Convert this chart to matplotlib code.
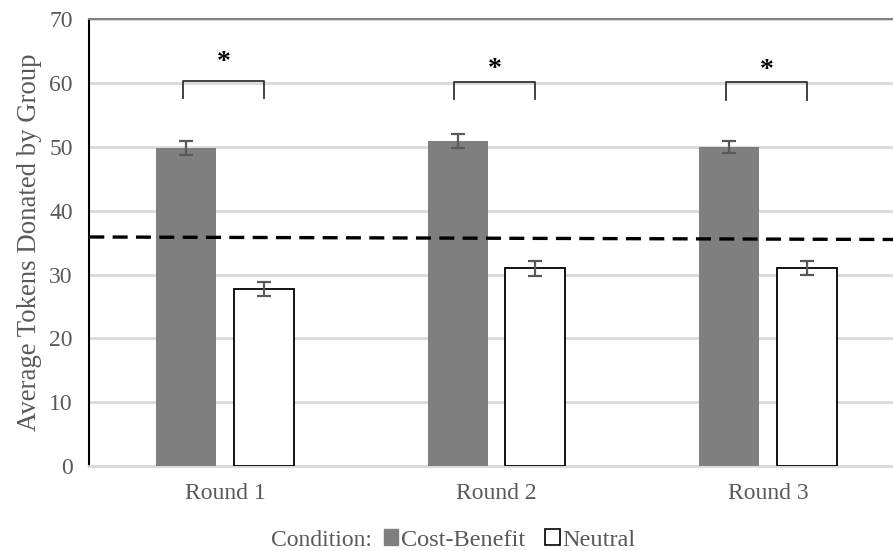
import numpy as np
import matplotlib

matplotlib.use("Agg")
import matplotlib.pyplot as plt
from matplotlib.patches import Patch

# Mean tokens donated per group, by round and condition.
rounds = ["Round 1", "Round 2", "Round 3"]
cost_benefit = [49.9, 50.9, 50.0]
cost_benefit_err = [1.1, 1.1, 0.9]
neutral = [27.7, 31.0, 31.1]
neutral_err = [1.1, 1.2, 1.1]

# Reference line (drawn slightly sloped, as in the original figure).
reference_level = [35.9, 35.5]

# Significance brackets: bracket height, leg bottom, star height.
bracket_top = [60.3, 60.1, 60.1]
bracket_bottom = [57.6, 57.5, 57.4]
star_y = [63.2, 62.2, 61.9]

plt.rcParams["font.family"] = ["Liberation Serif", "DejaVu Serif"]
text_color = "#595959"
bar_gray = "#7f7f7f"
err_color = "#595959"

fig = plt.figure(figsize=(8.93, 5.51), dpi=100)
ax = fig.add_axes([0.1, 0.154, 0.912, 0.811])

x = np.arange(len(rounds))
offset = 0.143
width = 0.222

ax.bar(x - offset, cost_benefit, width, color=bar_gray, zorder=3)
ax.bar(x + offset, neutral, width, facecolor="white", edgecolor="black",
       linewidth=1.3, zorder=3)
ax.errorbar(x - offset, cost_benefit, yerr=cost_benefit_err, fmt="none",
            ecolor=err_color, elinewidth=1.6, capsize=5, capthick=1.6, zorder=4)
ax.errorbar(x + offset, neutral, yerr=neutral_err, fmt="none",
            ecolor=err_color, elinewidth=1.6, capsize=5, capthick=1.6, zorder=4)

# Dashed reference line across the plot
ax.plot([-0.5, 2.5], reference_level, color="black", linestyle=(0, (4.5, 2.5)),
        linewidth=2.4, zorder=5)

# Significance brackets with stars
for i in range(len(rounds)):
    xl, xr = x[i] - offset - 0.012, x[i] + offset
    ax.plot([xl, xl, xr, xr],
            [bracket_bottom[i], bracket_top[i], bracket_top[i], bracket_bottom[i]],
            color="#333333", linewidth=1.3, zorder=5)
    ax.text((xl + xr) / 2, star_y[i], "*", ha="center", va="center",
            fontsize=20, fontweight="bold", color="black", zorder=6)

ax.set_xlim(-0.5, 2.5)
ax.set_ylim(0, 70)
ax.set_yticks(range(0, 71, 10))
ax.set_xticks(x)
ax.set_xticklabels(rounds)
ax.tick_params(axis="both", length=0, labelsize=17, colors=text_color)
ax.tick_params(axis="y", pad=12)
ax.tick_params(axis="x", pad=12)
ax.yaxis.grid(True, color="#d9d9d9", linewidth=2, zorder=0)
ax.set_axisbelow(True)

ax.spines["left"].set_color("black")
ax.spines["left"].set_linewidth(1.5)
ax.spines["top"].set_color("#808080")
ax.spines["top"].set_linewidth(1.5)
ax.spines["right"].set_visible(False)
ax.spines["bottom"].set_color("#d9d9d9")
ax.spines["bottom"].set_linewidth(2)

ax.set_ylabel("Average Tokens Donated by Group", fontsize=19.3, color=text_color,
              labelpad=5)

# Legend row at the bottom
fig.text(0.303, 0.0, "Condition:", fontsize=17, color=text_color,
         ha="left", va="bottom")
handles = [Patch(facecolor=bar_gray, edgecolor=bar_gray),
           Patch(facecolor="white", edgecolor="black", linewidth=1.2)]
fig.legend(handles, ["Cost-Benefit", "Neutral"], loc="lower left",
           bbox_to_anchor=(0.405, -0.039), ncol=2, frameon=False, fontsize=17.5,
           labelcolor=text_color, handlelength=0.6, handleheight=0.6,
           handletextpad=0.1, columnspacing=0.85)

fig.savefig("out.png", dpi=100)
